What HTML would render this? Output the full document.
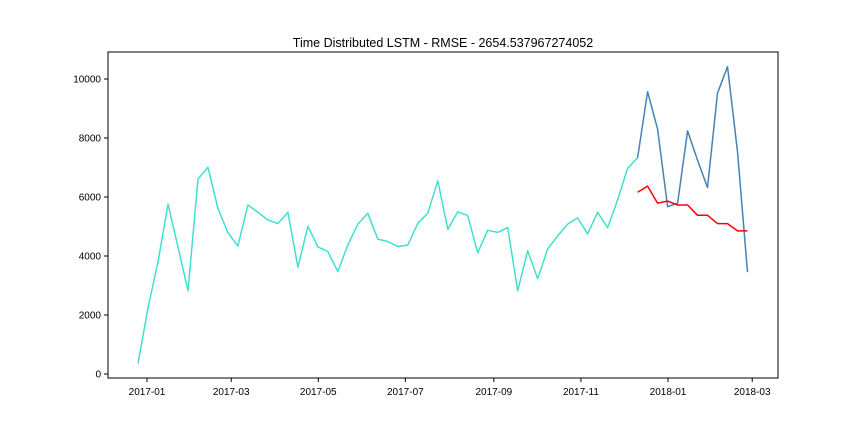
<!DOCTYPE html>
<html><head><meta charset="utf-8"><style>
body{margin:0;background:#fff;}
svg{display:block;font-family:"Liberation Sans","DejaVu Sans",sans-serif;}
</style></head><body>
<svg id="chart" width="864" height="432" xmlns="http://www.w3.org/2000/svg">
<text x="443" y="47" text-anchor="middle" font-size="12.5">Time Distributed LSTM - RMSE - 2654.537967274052</text>
<g id="axes"></g>
<g id="series"></g>
<rect x="108" y="52" width="670" height="326" fill="none" stroke="#000" stroke-width="1"/>
</svg>
<script>
const trainValues=[360,2240,3800,5760,4310,2820,6610,7010,5620,4790,4340,5730,5480,5220,5100,5480,3620,5010,4310,4150,3470,4370,5080,5450,4570,4490,4320,4370,5110,5450,6550,4900,5500,5370,4110,4870,4800,4970,2820,4180,3230,4240,4680,5080,5290,4750,5480,4960,5900,6970,7330];
const testValues=[7330,9570,8300,5670,5790,8240,7250,6320,9520,10420,7540,3450];
const predValues=[6160,6370,5790,5860,5730,5730,5380,5380,5100,5100,4850,4850];
const startDay=-6.3; // days from 2017-01-01, weekly
const stepDays=7;
const yTicks=[0,2000,4000,6000,8000,10000];
const xTickLabels=["2017-01","2017-03","2017-05","2017-07","2017-09","2017-11","2018-01","2018-03"];
const xTickDays=[0,59,120,181,243,304,365,424];

const NS="http://www.w3.org/2000/svg";
const xs=d=>147+d*(521/365);
const ys=v=>374-v*0.0295;
const axes=document.getElementById('axes'), series=document.getElementById('series');
function mk(tag,attrs,parent){const e=document.createElementNS(NS,tag);for(const k in attrs)e.setAttribute(k,attrs[k]);parent.appendChild(e);return e;}
yTicks.forEach(v=>{
  const y=ys(v);
  const t=mk('line',{x1:104,x2:108,y1:y,y2:y,stroke:'#000'},axes);
  
  
  const l=mk('text',{x:101,y:y+3.5,'text-anchor':'end','font-size':'10'},axes);
  l.textContent=v;
  
  
});
xTickDays.forEach((d,i)=>{
  const x=xs(d);
  const t=mk('line',{x1:x,x2:x,y1:378,y2:382,stroke:'#000'},axes);
  
  
  const l=mk('text',{x:x,y:395,'text-anchor':'middle','font-size':'10'},axes);
  l.textContent=xTickLabels[i];
  
  
});
function line(vals,offset,color,name){
  const pts=vals.map((v,i)=>xs(startDay+(i+offset)*stepDays).toFixed(1)+','+ys(v).toFixed(1)).join(' ');
  const p=mk('polyline',{points:pts,fill:'none',stroke:color,'stroke-width':1.5,'stroke-linejoin':'round'},series);
  
  
}
line(trainValues,0,'#40e0d0','train-series');
line(testValues,50,'#4682b4','test-series');
line(predValues,50,'#ff0000','prediction-series');
</script>
</body></html>
